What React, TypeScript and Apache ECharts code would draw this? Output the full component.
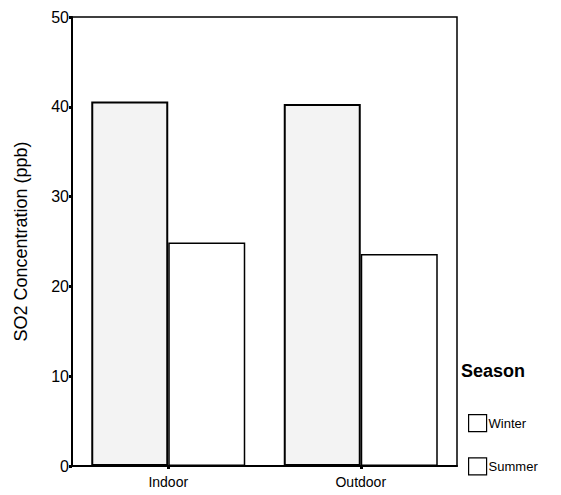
import React, { useEffect, useRef } from "react";
import * as echarts from "echarts";

const categories = ["Indoor", "Outdoor"];
const winterValues = [40.6, 40.3];
const summerValues = [24.9, 23.6];
const seriesNames = ["Winter", "Summer"];
const yTicks = { min: 0, max: 50, interval: 10 };

export default function App() {
  const ref = useRef<HTMLDivElement>(null);
  useEffect(() => {
    if (!ref.current) return;
    const chart = echarts.init(ref.current, null, { renderer: "svg" });
    const font = "Liberation Sans, Arial, sans-serif";
    chart.setOption({
      animation: false,
      backgroundColor: "#ffffff",
      textStyle: { fontFamily: font, color: "#000" },
      grid: {
        left: 72,
        top: 17,
        width: 385,
        height: 449,
        show: true,
        borderColor: "#000",
        borderWidth: 1.5,
        backgroundColor: "transparent",
      },
      xAxis: {
        type: "category",
        data: categories,
        axisLine: { lineStyle: { color: "#000", width: 2 } },
        axisTick: { show: true, alignWithLabel: true, length: 3, lineStyle: { color: "#000", width: 3 } },
        axisLabel: { color: "#000", fontSize: 14, fontFamily: font, margin: 9 },
      },
      yAxis: {
        type: "value",
        min: yTicks.min,
        max: yTicks.max,
        interval: yTicks.interval,
        name: "SO2 Concentration (ppb)",
        nameLocation: "middle",
        nameGap: 42,
        nameTextStyle: { color: "#000", fontSize: 18, fontFamily: font },
        axisLine: { show: true, lineStyle: { color: "#000", width: 2 } },
        axisTick: { show: true, length: 3, lineStyle: { color: "#000", width: 3 } },
        axisLabel: { color: "#000", fontSize: 16, fontFamily: font, margin: 3 },
        splitLine: { show: false },
      },
      legend: {
        orient: "vertical",
        left: 463,
        top: 409,
        itemWidth: 18,
        itemHeight: 17,
        itemGap: 25,
        icon: "rect",
        textStyle: { color: "#000", fontSize: 13, fontFamily: font, padding: [0, 0, 0, -3] },
        data: seriesNames.map((n) => ({
          name: n,
          itemStyle: { color: "#fff", borderColor: "#000", borderWidth: 1.2 },
        })),
      },
      graphic: [
        {
          type: "text",
          left: 461,
          top: 362,
          style: { text: "Season", font: `bold 18px ${font}`, fill: "#000" },
        },
      ],
      series: [
        {
          name: seriesNames[0],
          type: "bar",
          data: winterValues,
          barGap: "0%",
          barCategoryGap: "20%",
          itemStyle: { color: "#f3f3f3", borderColor: "#000", borderWidth: 2 },
        },
        {
          name: seriesNames[1],
          type: "bar",
          data: summerValues,
          barGap: "0%",
          barCategoryGap: "20%",
          itemStyle: { color: "#ffffff", borderColor: "#000", borderWidth: 1.5 },
        },
      ],
    });
    return () => chart.dispose();
  }, []);
  return (
    <div
      ref={ref}
      style={{ position: "fixed", left: 0, top: 0, width: 561, height: 495 }}
    />
  );
}
